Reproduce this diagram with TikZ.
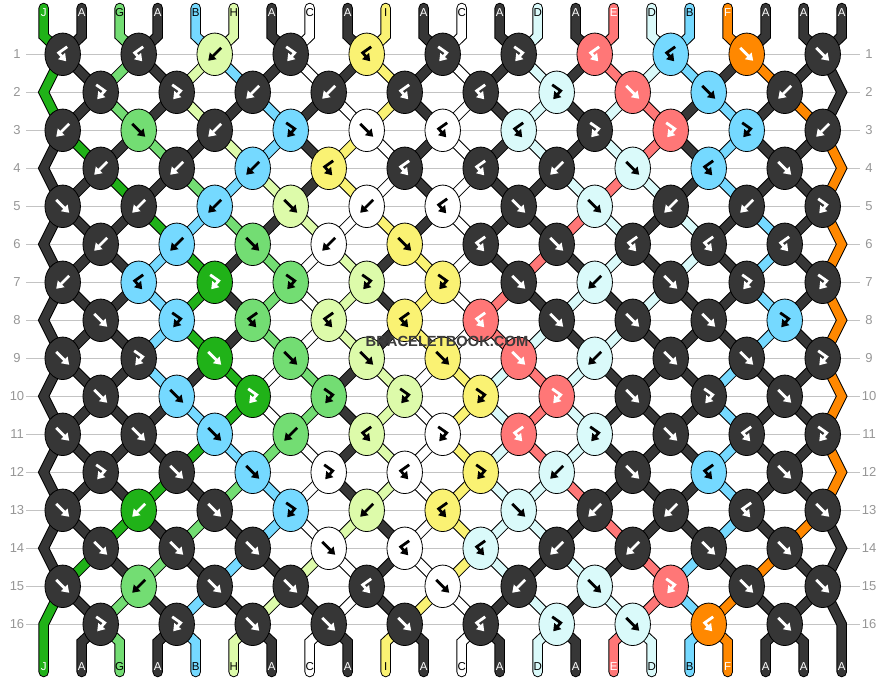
\documentclass[tikz,border=0pt]{standalone}
\usepackage{fontspec}
\setmainfont{Liberation Sans}
\usetikzlibrary{shapes.geometric,arrows.meta}

% thread colours
\definecolor{strA}{RGB}{54,54,54}
\definecolor{strB}{RGB}{117,217,255}
\definecolor{strC}{RGB}{255,255,255}
\definecolor{strD}{RGB}{218,250,250}
\definecolor{strE}{RGB}{255,119,119}
\definecolor{strF}{RGB}{255,136,0}
\definecolor{strG}{RGB}{115,221,115}
\definecolor{strH}{RGB}{221,251,170}
\definecolor{strI}{RGB}{250,242,115}
\definecolor{strJ}{RGB}{32,178,24}
\colorlet{inkA}{white}
\colorlet{inkB}{black}
\colorlet{inkC}{black}
\colorlet{inkD}{black}
\colorlet{inkE}{white}
\colorlet{inkF}{white}
\colorlet{inkG}{black}
\colorlet{inkH}{black}
\colorlet{inkI}{black}
\colorlet{inkJ}{white}
\definecolor{rulegray}{RGB}{195,195,195}
\definecolor{numgray}{RGB}{150,150,150}
\definecolor{markgray}{RGB}{60,60,60}

\pgfdeclarelayer{rules}
\pgfdeclarelayer{threads}
\pgfsetlayers{rules,threads,main}

\tikzset
{
	knot/.style = {ellipse, draw=black, line width=0.8pt, minimum width=35.5pt, minimum height=42.5pt, inner sep=0pt},
	glyph/.style = {line width=2.8pt, -{Triangle[length=7pt,width=9pt]}},
	threadout/.style = {line width=10.5pt, black, line cap=round, line join=miter},
	threadin/.style = {line width=8.5pt, line cap=round, line join=miter},
	endlabel/.style = {font=\fontsize{11.5}{13}\selectfont, inner sep=0pt},
	rownum/.style = {font=\fontsize{13}{15}\selectfont, text=numgray, inner sep=0pt},
	rowrule/.style = {rulegray, line width=1.1pt},
	watermark/.style = {font=\fontsize{14.7}{16}\selectfont\bfseries, inner sep=0pt}
}

% knots of each row: F forward, B backward, FB forward-backward, BF backward-forward
\newcommand\setrow[2]{\expandafter\def\csname knots#1\endcsname{#2}}
\setrow{1}{BF,BF,B,FB,BF,FB,FB,BF,BF,F,F}
\setrow{2}{FB,FB,B,B,BF,BF,FB,F,F,B}
\setrow{3}{B,F,B,FB,F,BF,BF,FB,FB,FB,B}
\setrow{4}{B,B,B,BF,BF,BF,B,F,BF,F}
\setrow{5}{F,B,B,F,B,BF,F,F,B,B,FB}
\setrow{6}{B,B,F,B,F,BF,F,BF,BF,BF}
\setrow{7}{B,BF,FB,FB,FB,FB,F,B,F,FB,FB}
\setrow{8}{F,FB,BF,BF,BF,BF,F,F,F,FB}
\setrow{9}{F,FB,F,F,F,F,F,B,F,F,FB}
\setrow{10}{F,F,FB,FB,FB,FB,FB,F,FB,F}
\setrow{11}{F,F,F,B,BF,FB,BF,FB,F,BF,FB}
\setrow{12}{FB,F,F,FB,BF,FB,B,F,BF,F}
\setrow{13}{F,B,F,FB,B,BF,F,B,B,BF,F}
\setrow{14}{F,F,F,F,BF,BF,B,B,F,F}
\setrow{15}{F,B,F,F,BF,F,B,F,FB,F,F}
\setrow{16}{FB,FB,F,F,F,BF,FB,F,BF,F}

\def\typeF{F}
\def\typeB{B}
\def\typeFB{FB}
\def\typeBF{BF}
\newcommand\addto[2]{\expandafter\xdef\csname path#1\endcsname{\csname path#1\endcsname -- #2}}

\begin{document}
\begin{tikzpicture}[x=1pt,y=-1pt]
\useasboundingbox (0,0) rectangle (886,680);

% thread ends at the top
\foreach \thr [count=\pos from 0] in {J,A,G,A,B,H,A,C,A,I,A,C,A,D,A,E,D,B,F,A,A,A}
{
	\pgfmathsetmacro\px{43.7+38*\pos}
	\coordinate (top\pos) at (\px,8);
	\coordinate (topbend\pos) at (\px,36);
	\node[endlabel, text=ink\thr] (toplabel\pos) at (\px,13) {\thr};
	\expandafter\xdef\csname col\pos\endcsname{\thr}
	\expandafter\xdef\csname occ\pos\endcsname{\pos}
	\expandafter\xdef\csname path\pos\endcsname{(top\pos) -- (topbend\pos)}
}

% rows of knots
\foreach \r in {1,...,16}
{
	\pgfmathsetmacro\ry{54.3+38*(\r-1)}
	\pgfmathtruncatemacro\odd{mod(\r,2)}
	\node[rownum] (numL\r) at (17,\ry) {\r};
	\node[rownum] (numR\r) at (869,\ry) {\r};
	\begin{pgfonlayer}{rules}
		\draw[rowrule] (26,\ry) -- (860,\ry);
	\end{pgfonlayer}
	\edef\knotlist{\csname knots\r\endcsname}
	\foreach \t [count=\k from 0] in \knotlist
	{
		\edef\kt{\t}
		\ifnum\odd=1
			\pgfmathtruncatemacro\a{2*\k}
			\pgfmathsetmacro\kx{62.7+76*\k}
		\else
			\pgfmathtruncatemacro\a{2*\k+1}
			\pgfmathsetmacro\kx{100.7+76*\k}
		\fi
		\pgfmathtruncatemacro\b{\a+1}
		\edef\jl{\csname occ\a\endcsname}
		\edef\jr{\csname occ\b\endcsname}
		\edef\maker{\jr}
		\ifx\kt\typeF \edef\maker{\jl}\fi
		\ifx\kt\typeFB \edef\maker{\jl}\fi
		\edef\kc{\csname col\maker\endcsname}
		\node[knot, fill=str\kc] (k-\r-\k) at (\kx,\ry) {};
		\begin{scope}[shift={(k-\r-\k.center)}]
			\ifx\kt\typeF \draw[glyph, color=ink\kc] (-6.5,-6.5) -- (6.5,6.5); \fi
			\ifx\kt\typeB \draw[glyph, color=ink\kc] (6.5,-6.5) -- (-6.5,6.5); \fi
			\ifx\kt\typeFB \draw[glyph, color=ink\kc] (-4.5,-7.5) -- (4,-1.5) -- (-3.5,7); \fi
			\ifx\kt\typeBF \draw[glyph, color=ink\kc] (4.5,-7.5) -- (-4,-1.5) -- (3.5,7); \fi
		\end{scope}
		\addto{\jl}{(k-\r-\k.center)}
		\addto{\jr}{(k-\r-\k.center)}
		\ifx\kt\typeF
			\expandafter\xdef\csname occ\a\endcsname{\jr}
			\expandafter\xdef\csname occ\b\endcsname{\jl}
		\fi
		\ifx\kt\typeB
			\expandafter\xdef\csname occ\a\endcsname{\jr}
			\expandafter\xdef\csname occ\b\endcsname{\jl}
		\fi
	}
	% outer threads bend out on even rows
	\ifnum\odd=0
		\coordinate (edgeL\r) at (43.7,\ry);
		\coordinate (edgeR\r) at (841.7,\ry);
		\addto{\csname occ0\endcsname}{(edgeL\r)}
		\addto{\csname occ21\endcsname}{(edgeR\r)}
	\fi
}

% thread ends at the bottom
\foreach \pos in {0,...,21}
{
	\pgfmathsetmacro\px{43.7+38*\pos}
	\edef\j{\csname occ\pos\endcsname}
	\edef\thr{\csname col\j\endcsname}
	\coordinate (botbend\pos) at (\px,642);
	\coordinate (bot\pos) at (\px,672);
	\node[endlabel, text=ink\thr] (botlabel\pos) at (\px,667) {\thr};
	\addto{\j}{(botbend\pos) -- (bot\pos)}
}

\begin{pgfonlayer}{threads}
\foreach \j in {0,...,21}
{
	\edef\thr{\csname col\j\endcsname}
	\edef\drawthread{\noexpand\draw[threadout] \csname path\j\endcsname;
		\noexpand\draw[threadin, draw=str\thr] \csname path\j\endcsname;}
	\drawthread
}
\end{pgfonlayer}

% site mark
\node[watermark, text=markgray] (mark) at (447,341) {BRACELETBOOK.COM};
\end{tikzpicture}
\end{document}
